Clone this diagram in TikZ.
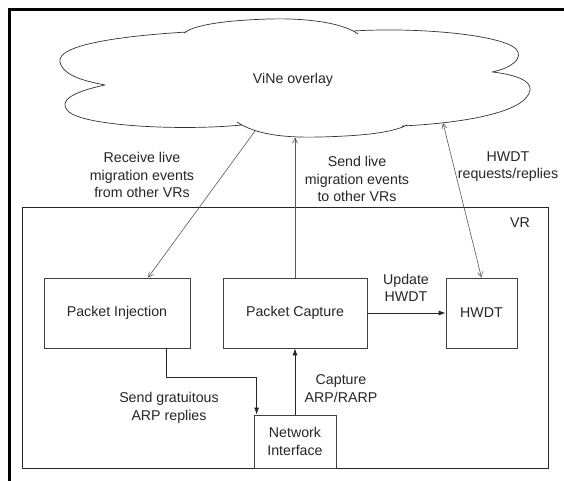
\documentclass[tikz,border=0pt]{standalone}
\usepackage{fontspec}
\setmainfont{Liberation Sans}
\usetikzlibrary{arrows.meta}
\begin{document}
\begin{tikzpicture}[x=1pt,y=-1pt,
  txt/.style={font=\fontsize{14.2}{17.5}\selectfont, text=black!85, align=center},
  box/.style={txt, draw=black!75, line width=0.8pt, inner sep=0pt},
  flow/.style={draw=black!85, line width=0.8pt, -{Latex[length=7pt,width=5pt]}},
  net/.style={draw=black!65, line width=0.6pt, -{Straight Barb[length=5pt,width=5pt]}}]
\useasboundingbox (0,0) rectangle (564,481);
\fill[white] (0,0) rectangle (564,481);
% outer frame (top and left edges)
\draw[line width=3pt, line cap=rect] (564,10) -- (9.5,10) -- (9.5,481);

% overlay cloud
\draw[black!80, line width=0.7pt]
  (187,32) .. controls (120,36) and (56,45) .. (60,62)
           .. controls (63,77) and (90,82) .. (105,85)
  (105,85) .. controls (72,92) and (58,101) .. (68,111)
           .. controls (82,126) and (180,131) .. (242,125)
  (237,122) .. controls (255,134) and (282,138) .. (320,137)
           .. controls (360,136) and (392,133) .. (407,125)
  (402,126) .. controls (465,123) and (527,112) .. (530,90)
           .. controls (532,80) and (512,74) .. (492,72)
  (492,72) .. controls (512,68) and (524,58) .. (516,49)
           .. controls (502,35) and (420,27) .. (353,31)
  (358,34) .. controls (342,22) and (302,18) .. (270,19)
           .. controls (232,20) and (195,24) .. (184,33);
\node[txt] (vine) at (293,80) {ViNe overlay};
\coordinate (cloudRecv) at (255,131);
\coordinate (cloudSend) at (295,137.5);
\coordinate (cloudHwdt) at (443,123);

% virtual router
\node[draw=black!85, line width=0.8pt, minimum width=526pt, minimum height=261pt, inner sep=0pt] (vr) at (285,337.5) {};
\node[txt] (vrlabel) at (520,223) {VR};

\node[box, minimum width=146pt, minimum height=70pt] (inj) at (117,313) {Packet Injection};
\node[box, minimum width=144pt, minimum height=70pt] (cap) at (295,313) {Packet Capture};
\node[box, minimum width=71pt, minimum height=70pt] (hwdt) at (481.5,313) {HWDT};
\node[box, minimum width=82pt, minimum height=53pt] (nic) at (295,441.5) {Network\\Interface};

% connectors
\draw[net] (cloudRecv) -- ([xshift=31pt]inj.north);
\draw[net] (cap.north) -- (cloudSend);
\draw[net, {Straight Barb[length=5pt,width=5pt]}-{Straight Barb[length=5pt,width=5pt]}] (cloudHwdt) -- (hwdt.north);
\draw[flow] (cap) -- (hwdt);
\draw[flow] (nic) -- (cap);
\draw[flow] ([xshift=-24pt]inj.south east) -- ++(0,29) -| ([xshift=3pt]nic.north west);

% labels
\node[txt] (lrecv) at (142,175) {Receive live\\migration events\\from other VRs};
\node[txt] (lsend) at (357,179) {Send live\\migration events\\to other VRs};
\node[txt] (lhwdt) at (508,166.5) {HWDT\\requests/replies};
\node[txt] (lupd) at (406,288) {Update\\HWDT};
\node[txt] (lgarp) at (169,408) {Send gratuitous\\ARP replies};
\node[txt] (lcap) at (341,388.5) {Capture\\ARP/RARP};
\end{tikzpicture}
\end{document}
